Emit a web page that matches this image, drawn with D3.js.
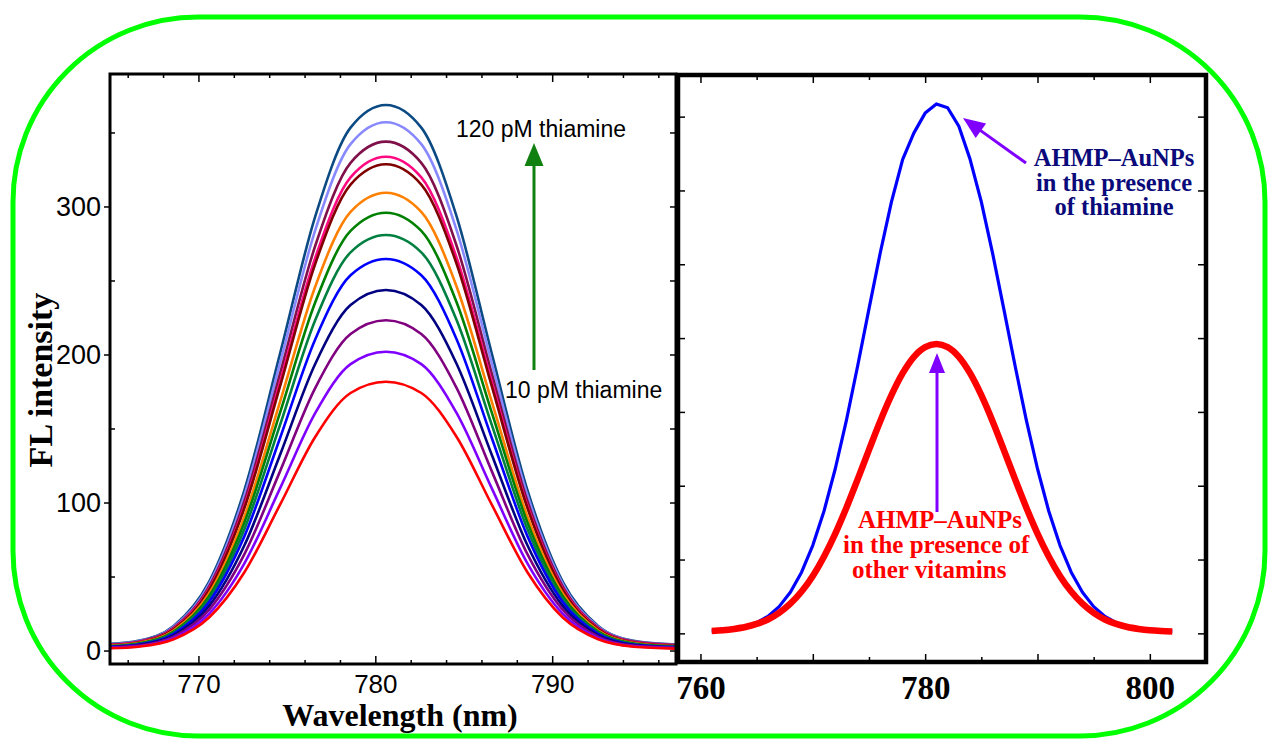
<!DOCTYPE html>
<html>
<head>
<meta charset="utf-8">
<script src="https://cdn.jsdelivr.net/npm/d3@7"></script>
<style>
  body { margin: 0; background: #fff; }
  svg { display: block; }
</style>
</head>
<body>
<div id="chart"></div>
<script>
// ---------- data ----------
// left panel: wavelengths (nm) sampled along the spectra
var wlLeft = [765, 766.6, 768.6, 770.6, 772.6, 774.6, 776.6, 778.6, 780.6,
              782.6, 784.6, 786.6, 788.6, 790.6, 792.6, 794.6, 797];

var seriesNames = ["120 pM", "110 pM", "100 pM", "90 pM", "80 pM", "70 pM", "60 pM",
                   "50 pM", "40 pM", "30 pM", "20 pM", "10 pM", "0 pM"];
var seriesColors = ["#0c4a84", "#8888ff", "#80104a", "#ff0a80", "#800000", "#ff8000", "#008000",
                    "#008040", "#0000ff", "#000080", "#800080", "#8000ff", "#ff0000"];

var fl120 = [4.5, 6.6, 16.6, 46.4, 108.4, 199.9, 293.1, 353.3, 368.6, 353.3, 293.1, 199.9, 108.4, 46.4, 16.6, 6.6, 4.1];
var fl110 = [4.2, 6.3, 16.0, 44.8, 104.9, 193.5, 283.8, 342.1, 356.9, 342.1, 283.8, 193.5, 104.9, 44.8, 16.0, 6.3, 3.9];
var fl100 = [4.0, 6.0, 15.4, 43.1, 101.0, 186.4, 273.3, 329.5, 343.8, 329.5, 273.3, 186.4, 101.0, 43.1, 15.4, 6.0, 3.7];
var fl90  = [3.8, 5.7, 14.8, 41.8, 97.9, 180.8, 265.2, 319.7, 333.6, 319.7, 265.2, 180.8, 97.9, 41.8, 14.8, 5.7, 3.5];
var fl80  = [3.5, 5.4, 14.4, 40.9, 96.3, 177.9, 261.1, 314.8, 328.5, 314.8, 261.1, 177.9, 96.3, 40.9, 14.4, 5.4, 3.2];
var fl70  = [3.3, 5.1, 13.5, 38.5, 90.6, 167.5, 245.8, 296.4, 309.3, 296.4, 245.8, 167.5, 90.6, 38.5, 13.5, 5.1, 2.9];
var fl60  = [3.0, 4.8, 12.8, 36.7, 86.6, 160.2, 235.1, 283.5, 295.8, 283.5, 235.1, 160.2, 86.6, 36.7, 12.8, 4.8, 2.7];
var fl50  = [2.8, 4.4, 12.1, 34.8, 82.1, 151.9, 223.1, 269.0, 280.7, 269.0, 223.1, 151.9, 82.1, 34.8, 12.1, 4.4, 2.5];
var fl40  = [2.6, 4.1, 11.3, 32.7, 77.3, 143.1, 210.2, 253.5, 264.5, 253.5, 210.2, 143.1, 77.3, 32.7, 11.3, 4.1, 2.3];
var fl30  = [2.2, 3.7, 10.3, 30.0, 71.1, 131.8, 193.6, 233.4, 243.6, 233.4, 193.6, 131.8, 71.1, 30.0, 10.3, 3.7, 2.0];
var fl20  = [2.0, 3.3, 9.4, 27.5, 65.1, 120.7, 177.3, 213.8, 223.1, 213.8, 177.3, 120.7, 65.1, 27.5, 9.4, 3.3, 1.8];
var fl10  = [1.8, 2.9, 8.5, 24.8, 58.9, 109.2, 160.4, 193.5, 201.9, 193.5, 160.4, 109.2, 58.9, 24.8, 8.5, 2.9, 1.6];
var fl0   = [1.5, 2.6, 7.6, 22.3, 52.9, 98.2, 144.3, 174.0, 181.6, 174.0, 144.3, 98.2, 52.9, 22.3, 7.6, 2.6, 1.3];

// right panel: 761 .. 802 nm, 1 nm steps
var wlRight = [761, 762, 763, 764, 765, 766, 767, 768, 769, 770, 771, 772, 773, 774,
               775, 776, 777, 778, 779, 780, 781, 782, 783, 784, 785, 786, 787, 788,
               789, 790, 791, 792, 793, 794, 795, 796, 797, 798, 799, 800, 801, 802];
var thiamine = [1.5, 2.0, 2.9, 4.6, 7.3, 11.5, 18.1, 27.8, 41.4, 59.6, 82.9, 111.5, 144.6, 181.4,
                219.8, 257.6, 292.2, 321.1, 339.0, 352.4, 358.6, 356.0, 343.5, 321.1, 292.2, 257.6, 219.8, 181.4,
                144.6, 111.5, 82.9, 59.6, 41.4, 27.8, 18.1, 11.5, 7.3, 4.6, 2.9, 2.0, 1.5, 1.3];
var otherVitamins = [1.6, 2.1, 3.0, 4.3, 6.4, 9.4, 13.9, 20.1, 28.3, 38.9, 52.1, 67.6, 85.3, 104.5,
                     124.3, 143.7, 161.3, 176.2, 187.3, 193.9, 196.0, 193.9, 187.3, 176.2, 161.3, 143.7, 124.3, 104.5,
                     85.3, 67.6, 52.1, 38.9, 28.3, 20.1, 13.9, 9.4, 6.4, 4.3, 3.0, 2.1, 1.6, 1.3];

var leftTicksMajor = [770, 780, 790],
    leftTicksMinor = [766, 768, 772, 774, 776, 778, 782, 784, 786, 788, 792, 794, 796],
    leftYMajor = [0, 100, 200, 300],
    leftYMinor = [50, 150, 250, 350],
    rightTicksMajor = [760, 770, 780, 790, 800],
    rightTicksMinor = [765, 775, 785, 795],
    rightYTicks = [0, 50, 100, 150, 200, 250, 300, 350];

var spectra = [fl120, fl110, fl100, fl90, fl80, fl70, fl60, fl50, fl40, fl30, fl20, fl10, fl0];

// ---------- drawing ----------
var width = 1270, height = 739;
var sans = "'Liberation Sans', Arial, sans-serif",
    serif = "'Liberation Serif', 'Times New Roman', serif";

var svg = d3.select("#chart").append("svg")
            .attr("width", width)
            .attr("height", height);

// green rounded border
svg.append("rect")
   .attr("x", 13).attr("y", 17)
   .attr("width", 1252).attr("height", 719)
   .attr("rx", 185).attr("ry", 185)
   .style("fill", "none")
   .style("stroke", "#00ff00")
   .style("stroke-width", 5);

function styleAxis(g, lw) {
  g.select(".domain").remove();
  g.selectAll("line").style("stroke", "#000").style("stroke-width", lw || 1.5);
}

// ---- left panel ----
var L = {x0: 110, x1: 676, y0: 74, y1: 664};
var xL = d3.scaleLinear().domain([765, 797]).range([L.x0, L.x1]);
var yL = d3.scaleLinear().domain([-9.1, 389.5]).range([L.y1, L.y0]);

var lineL = d3.line()
              .x(function(d, i) { return xL(wlLeft[i]); })
              .y(function(d) { return yL(d); })
              .curve(d3.curveMonotoneX);

svg.append("g").attr("id", "left-curves")
   .selectAll("path")
   .data(spectra)
   .enter()
   .append("path")
   .attr("d", lineL)
   .style("fill", "none")
   .style("stroke", function(d, i) { return seriesColors[i]; })
   .style("stroke-width", 2.6);

// ticks
var gxb = svg.append("g").attr("transform", "translate(0," + L.y1 + ")")
             .call(d3.axisBottom(xL).tickValues(leftTicksMajor).tickSize(-8).tickPadding(11));
styleAxis(gxb);
gxb.selectAll("text").style("font-family", sans).style("font-size", "26px").style("fill", "#000");
styleAxis(svg.append("g").attr("transform", "translate(0," + L.y1 + ")")
             .call(d3.axisBottom(xL).tickValues(leftTicksMinor).tickSize(-4).tickFormat("")));
styleAxis(svg.append("g").attr("transform", "translate(0," + L.y0 + ")")
             .call(d3.axisTop(xL).tickValues(leftTicksMajor).tickSize(-8).tickFormat("")));
styleAxis(svg.append("g").attr("transform", "translate(0," + L.y0 + ")")
             .call(d3.axisTop(xL).tickValues(leftTicksMinor).tickSize(-4).tickFormat("")));

var gyl = svg.append("g").attr("transform", "translate(" + L.x0 + ",0)")
             .call(d3.axisLeft(yL).tickValues(leftYMajor).tickSize(6).tickPadding(3));
styleAxis(gyl);
gyl.selectAll("text").style("font-family", sans).style("font-size", "27px").style("fill", "#000");
styleAxis(svg.append("g").attr("transform", "translate(" + L.x0 + ",0)")
             .call(d3.axisLeft(yL).tickValues(leftYMinor).tickSize(-5).tickFormat("")));
styleAxis(svg.append("g").attr("transform", "translate(" + L.x1 + ",0)")
             .call(d3.axisRight(yL).tickValues(leftYMajor.concat(leftYMinor)).tickSize(-6).tickFormat("")));

svg.append("rect")
   .attr("x", L.x0).attr("y", L.y0)
   .attr("width", L.x1 - L.x0).attr("height", L.y1 - L.y0)
   .style("fill", "none").style("stroke", "#000").style("stroke-width", 3);

// axis titles
svg.append("text")
   .attr("x", 400).attr("y", 726)
   .attr("text-anchor", "middle")
   .style("font-family", serif).style("font-weight", "bold").style("font-size", "32px")
   .text("Wavelength (nm)");

svg.append("text")
   .attr("transform", "translate(52,380) rotate(-90)")
   .attr("text-anchor", "middle")
   .style("font-family", serif).style("font-weight", "bold").style("font-size", "34px")
   .text("FL intensity");

// arrows
function arrow(x1, y1, x2, y2, color, hl, hw, lw) {
  var dx = x2 - x1, dy = y2 - y1, len = Math.sqrt(dx * dx + dy * dy),
      ux = dx / len, uy = dy / len,
      bx = x2 - ux * hl, by = y2 - uy * hl,
      px = -uy, py = ux;
  svg.append("line")
     .attr("x1", x1).attr("y1", y1).attr("x2", bx + ux * 2).attr("y2", by + uy * 2)
     .style("stroke", color).style("stroke-width", lw);
  svg.append("path")
     .attr("d", "M" + x2 + "," + y2 + "L" + (bx + px * hw) + "," + (by + py * hw) +
                "L" + (bx - px * hw) + "," + (by - py * hw) + "Z")
     .style("fill", color);
}

arrow(534, 370, 534, 143, "#108010", 23, 9.5, 3);

svg.append("text")
   .attr("x", 456).attr("y", 137)
   .style("font-family", sans).style("font-size", "23px")
   .text("120 pM thiamine");
svg.append("text")
   .attr("x", 505).attr("y", 398)
   .style("font-family", sans).style("font-size", "23px")
   .text("10 pM thiamine");

// ---- right panel ----
var R = {x0: 678, x1: 1206, y0: 75, y1: 662};
var xR = d3.scaleLinear().domain([758, 805]).range([R.x0, R.x1]);
var yR = d3.scaleLinear().domain([-19.4, 378.2]).range([R.y1, R.y0]);

var lineR = d3.line()
              .x(function(d, i) { return xR(wlRight[i]); })
              .y(function(d) { return yR(d); });

svg.append("path")
   .attr("d", lineR(thiamine))
   .style("fill", "none").style("stroke", "#0000ff").style("stroke-width", 3.2)
   .style("stroke-linejoin", "round");
svg.append("path")
   .attr("d", lineR.curve(d3.curveMonotoneX)(otherVitamins))
   .style("fill", "none").style("stroke", "#ff0000").style("stroke-width", 6.5)
   .style("stroke-linejoin", "round");

var gxr = svg.append("g").attr("transform", "translate(0," + R.y1 + ")")
             .call(d3.axisBottom(xR).tickValues(rightTicksMajor).tickSize(-8).tickPadding(14)
                     .tickFormat(function(d) { return d % 20 === 0 ? d : ""; }));
styleAxis(gxr);
gxr.selectAll("text").style("font-family", serif).style("font-weight", "bold")
   .style("font-size", "33px").style("fill", "#000");
styleAxis(svg.append("g").attr("transform", "translate(0," + R.y1 + ")")
             .call(d3.axisBottom(xR).tickValues(rightTicksMinor).tickSize(-5).tickFormat("")));
styleAxis(svg.append("g").attr("transform", "translate(0," + R.y0 + ")")
             .call(d3.axisTop(xR).tickValues(rightTicksMajor).tickSize(-8).tickFormat("")));
styleAxis(svg.append("g").attr("transform", "translate(0," + R.y0 + ")")
             .call(d3.axisTop(xR).tickValues(rightTicksMinor).tickSize(-5).tickFormat("")));
styleAxis(svg.append("g").attr("transform", "translate(" + R.x0 + ",0)")
             .call(d3.axisLeft(yR).tickValues(rightYTicks).tickSize(-7).tickFormat("")));
styleAxis(svg.append("g").attr("transform", "translate(" + R.x1 + ",0)")
             .call(d3.axisRight(yR).tickValues(rightYTicks).tickSize(-8).tickFormat("")));

svg.append("rect")
   .attr("x", R.x0).attr("y", R.y0)
   .attr("width", R.x1 - R.x0).attr("height", R.y1 - R.y0)
   .style("fill", "none").style("stroke", "#000").style("stroke-width", 4.5);

// annotations
arrow(1026, 163, 963, 118, "#8000ff", 22, 9, 3);
arrow(937, 512, 937, 353, "#8000ff", 20, 8, 3);

var navyLines = [["AHMP\u2013AuNPs", 166], ["in the presence", 190.5], ["of thiamine", 215]];
svg.selectAll("text.navy")
   .data(navyLines).enter()
   .append("text").attr("class", "navy")
   .attr("x", 1114).attr("y", function(d) { return d[1]; })
   .attr("text-anchor", "middle")
   .style("font-family", serif).style("font-weight", "bold").style("font-size", "24.5px")
   .style("fill", "#0a0a7a")
   .text(function(d) { return d[0]; });

var redLines = [["AHMP\u2013AuNPs", 858, 528], ["in the presence of", 843, 553], ["other vitamins", 852, 578]];
svg.selectAll("text.redt")
   .data(redLines).enter()
   .append("text").attr("class", "redt")
   .attr("x", function(d) { return d[1]; }).attr("y", function(d) { return d[2]; })
   .style("font-family", serif).style("font-weight", "bold").style("font-size", "25px")
   .style("fill", "#ff0000")
   .text(function(d) { return d[0]; });
</script>
</body>
</html>
